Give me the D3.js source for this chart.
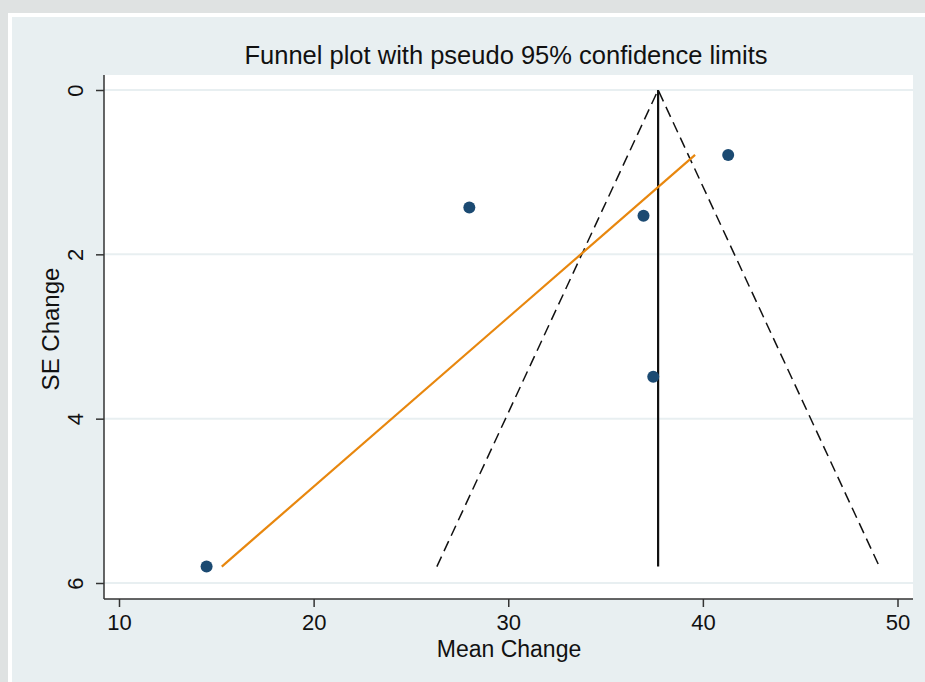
<!DOCTYPE html>
<html>
<head>
<meta charset="utf-8">
<script src="https://cdn.jsdelivr.net/npm/d3@7"></script>
<style>
  html, body { margin: 0; padding: 0; background: #dfe2e2; }
  svg { display: block; font-family: Arial, "Liberation Sans", sans-serif; }
</style>
</head>
<body>
<svg id="chart" width="925" height="682"></svg>
<script>
// study estimates (mean change) and their standard errors
const meanChange = [14.5, 28.0, 36.95, 41.3, 37.45]
const seChange = [5.8, 1.43, 1.53, 0.79, 3.49]
// pooled estimate the funnel is centred on
const pooled = 37.7
// orange fitted line, ends
const fitMean = [15.28, 39.6]
const fitSE = [5.8, 0.79]
const xTicks = [10, 20, 30, 40, 50]
const yTicks = [0, 2, 4, 6]

const svg = d3.select('#chart')
const W = 925, H = 682
const plot = { left: 104, top: 75, right: 913, bottom: 599 }

// outer frame: grey strip, white edge, pale panel
svg.append('rect').attr('x', 0).attr('y', 0).attr('width', W).attr('height', H).attr('fill', '#dfe2e2')
svg.append('rect').attr('x', 8).attr('y', 13).attr('width', W - 8).attr('height', H - 13).attr('fill', '#ffffff')
svg.append('rect').attr('x', 12).attr('y', 17).attr('width', W - 12).attr('height', H - 17).attr('fill', '#e8eff1')
svg.append('rect').attr('x', plot.left).attr('y', plot.top)
  .attr('width', plot.right - plot.left).attr('height', plot.bottom - plot.top).attr('fill', '#ffffff')

const x = d3.scaleLinear().domain([10, 50]).range([119, 897.5])
const y = d3.scaleLinear().domain([0, 6]).range([90, 583])

// horizontal grid
svg.append('g').selectAll('line').data(yTicks).join('line')
  .attr('x1', plot.left).attr('x2', plot.right)
  .attr('y1', d => y(d)).attr('y2', d => y(d))
  .attr('stroke', '#e8eff1').attr('stroke-width', 2)

// axes
const xAxis = svg.append('g').attr('transform', `translate(0,${plot.bottom})`)
  .call(d3.axisBottom(x).tickValues(xTicks).tickSize(8).tickPadding(7).tickFormat(d3.format('d')))
xAxis.select('.domain').attr('d', `M${plot.left},0H${plot.right}`)
const yAxis = svg.append('g').attr('transform', `translate(${plot.left},0)`)
  .call(d3.axisLeft(y).tickValues(yTicks).tickSize(8).tickFormat(d3.format('d')))
yAxis.select('.domain').attr('d', `M0,${plot.top}V${plot.bottom}`)

for (const g of [xAxis, yAxis]) {
  g.select('.domain').attr('stroke', '#333').attr('stroke-width', 1.5)
  g.selectAll('.tick line').attr('stroke', '#333').attr('stroke-width', 1.5)
  g.selectAll('.tick text').attr('fill', '#111').attr('font-size', 22).attr('font-family', 'Arial, "Liberation Sans", sans-serif')
}
// y tick labels turned on their side like the source
yAxis.selectAll('.tick text')
  .attr('x', null).attr('dy', null)
  .attr('text-anchor', 'middle')
  .attr('transform', 'translate(-29,0) rotate(-90)')
  .attr('dy', '0.35em')

// funnel limits
const maxSE = d3.max(seChange)
const funnel = [[pooled - 1.96 * maxSE, maxSE], [pooled, 0], [pooled + 1.96 * maxSE, maxSE]]
const line = d3.line().x(d => x(d[0])).y(d => y(d[1]))
svg.append('path').attr('d', line(funnel))
  .attr('fill', 'none').attr('stroke', '#111').attr('stroke-width', 1.5)
  .attr('stroke-dasharray', '11,6')

// pooled estimate
svg.append('path').attr('d', line([[pooled, 0], [pooled, maxSE]]))
  .attr('fill', 'none').attr('stroke', '#111').attr('stroke-width', 2.2)

// fitted line
svg.append('path').attr('d', line(fitMean.map((m, i) => [m, fitSE[i]])))
  .attr('fill', 'none').attr('stroke', '#e8870e').attr('stroke-width', 2.2)

// studies
svg.append('g').selectAll('circle').data(meanChange).join('circle')
  .attr('cx', d => x(d)).attr('cy', (d, i) => y(seChange[i]))
  .attr('r', 6).attr('fill', '#1b4a72')

// titles
svg.append('text').attr('x', 506).attr('y', 64).attr('text-anchor', 'middle')
  .attr('font-size', 25.5).attr('fill', '#111').text('Funnel plot with pseudo 95% confidence limits')
svg.append('text').attr('x', 509).attr('y', 657).attr('text-anchor', 'middle')
  .attr('font-size', 23).attr('fill', '#111').text('Mean Change')
svg.append('text').attr('transform', 'translate(59,329) rotate(-90)').attr('text-anchor', 'middle')
  .attr('font-size', 24).attr('fill', '#111').text('SE Change')
</script>
</body>
</html>
